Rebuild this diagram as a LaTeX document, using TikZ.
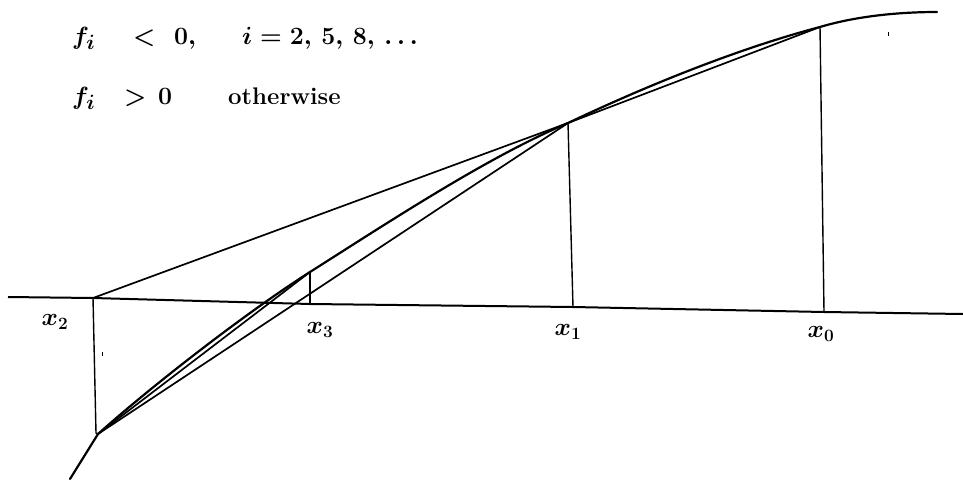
\documentclass[tikz,border=0pt]{standalone}
\usepackage{amsmath}
\begin{document}
\begin{tikzpicture}[x=1pt,y=-1pt,
  curve/.style={line width=2.2pt,line join=round,line cap=round},
  chord/.style={line width=1.7pt,line cap=round},
  vline/.style={line width=1.4pt},
  axisline/.style={line width=2pt},
  lbl/.style={inner sep=0pt,font=\fontsize{27}{30}\selectfont\boldmath},
  txt/.style={inner sep=0pt,anchor=base west,font=\fontsize{28}{32}\selectfont\boldmath\bfseries}]
\useasboundingbox (0,0) rectangle (963,479);
% points on the function
\coordinate (f0) at (820,27);
\coordinate (f1) at (568,123);
\coordinate (f3) at (310,272);
\coordinate (f2) at (98,434);
\coordinate (fs) at (70,479);
\coordinate (fe) at (937,12);
% points on the axis
\coordinate (aL) at (8,297);
\coordinate (a2) at (93,298);
\coordinate (a3) at (310,304);
\coordinate (a1) at (573,307);
\coordinate (a0) at (824,312);
\coordinate (aR) at (963,314);
% axis
\draw[axisline] (aL) -- (a2) -- (a3) -- (a1) -- (a0) -- (aR);
% curve
\draw[curve] (fs) -- (f2)
  .. controls (155,383) and (250,310) .. (f3)
  .. controls (395,218) and (488,157) .. (f1)
  .. controls (648,85) and (740,48) .. (f0)
  .. controls (860,15) and (905,12) .. (fe);
% secant x0 - x1 - x2
\draw[chord] (f0) -- (f1) -- (a2);
% verticals
\draw[vline] (f0) -- (a0);
\draw[vline] (f1) -- (a1);
\draw[vline] (a2) -- (96,433) -- (f2);
\draw[vline] (f3) -- (a3);
% chords
\draw[chord] (f2) -- (f1);
\draw[chord] (f2) -- (f3);
% stray marks
\draw[line width=1pt] (888,32) -- (888,36);
\draw[line width=0.8pt] (102,352) -- (102,356);
% labels
\node[lbl] (l2) at (55,322) {$x_2$};
\node[lbl] (l3) at (320,330) {$x_3$};
\node[lbl] (l1) at (568,332) {$x_1$};
\node[lbl] (l0) at (821,334) {$x_0$};
% text
\node[txt] (t1a) at (72,44) {$f_i$};
\node[txt] (t1b) at (133,44) {$<$};
\node[txt] (t1c) at (174,44) {$0,$};
\node[txt] (t1d) at (242,44) {$i = 2,\, 5,\, 8,\, \ldots$};
\node[txt] (t2a) at (72,104) {$f_i$};
\node[txt] (t2b) at (124,104) {$>$};
\node[txt] (t2c) at (158,104) {$0$};
\node[txt,font=\fontsize{24}{28}\selectfont\bfseries] (t2d) at (228,104) {otherwise};
\end{tikzpicture}
\end{document}
